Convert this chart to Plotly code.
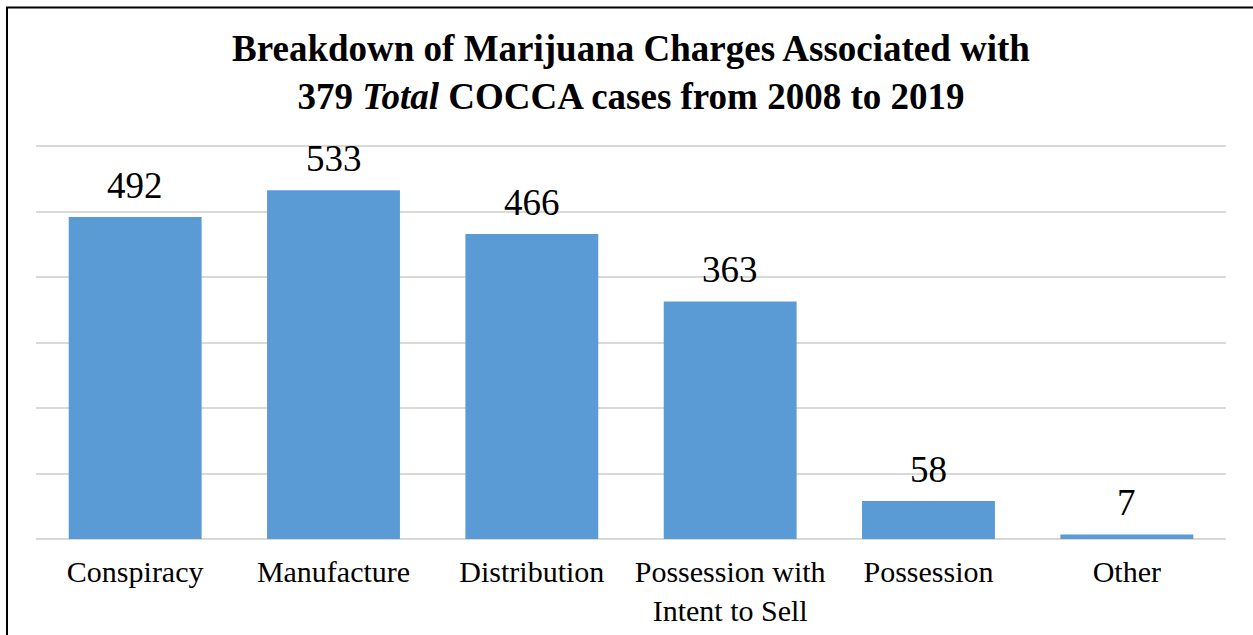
import plotly.graph_objects as go

categories = ["Conspiracy", "Manufacture", "Distribution", "Possession with<br>Intent to Sell", "Possession", "Other"]
values = [492, 533, 466, 363, 58, 7]

W, H = 1253, 635
L, R, T, B = 36, 27, 145, 96
YMAX = 602

fig = go.Figure(go.Bar(
    x=categories, y=values,
    marker=dict(color="#5b9bd5", line=dict(width=0)),
    hoverinfo="x+y",
))

for c, v in zip(categories, values):
    fig.add_annotation(x=c, y=v, text=str(v), showarrow=False, yanchor="bottom", yshift=9,
                       font=dict(family="Liberation Serif", size=37, color="#000000"))

fig.update_layout(
    width=W, height=H, autosize=False,
    margin=dict(l=L, r=R, t=T, b=B, autoexpand=False),
    paper_bgcolor="white", plot_bgcolor="white",
    bargap=0.33,
    showlegend=False,
    title=dict(
        text="<b>Breakdown of Marijuana Charges Associated with<br>379 <i>Total</i> COCCA cases from 2008 to 2019</b>",
        x=(L + (W - L - R) / 2) / W, xanchor="center",
        y=1 - 61 / H, yanchor="middle", yref="container",
        font=dict(family="Liberation Serif", size=37, color="#000000"),
    ),
    font=dict(family="Liberation Serif", color="#000000"),
    xaxis=dict(showgrid=False, showline=False, zeroline=False, ticks="", automargin=False,
               tickfont=dict(family="Liberation Serif", size=30, color="#000000"),
               ticklabelstandoff=12),
    yaxis=dict(range=[0, YMAX], dtick=100, showticklabels=False, showgrid=True, automargin=False,
               gridcolor="#d9d9d9", gridwidth=2, zeroline=True, zerolinecolor="#d9d9d9",
               zerolinewidth=2, showline=False, ticks=""),
)

fig.add_shape(type="rect", xref="paper", yref="paper",
              x0=(7 - L) / (W - L - R), x1=(W + 20 - L) / (W - L - R),
              y0=-(B + 20) / (H - T - B), y1=1 + (T - 7.5) / (H - T - B),
              line=dict(color="#000000", width=2), fillcolor="rgba(0,0,0,0)", layer="above")

fig.write_html("out.html", config={"displayModeBar": False, "responsive": False},
               post_script="document.body.style.margin='0';")
